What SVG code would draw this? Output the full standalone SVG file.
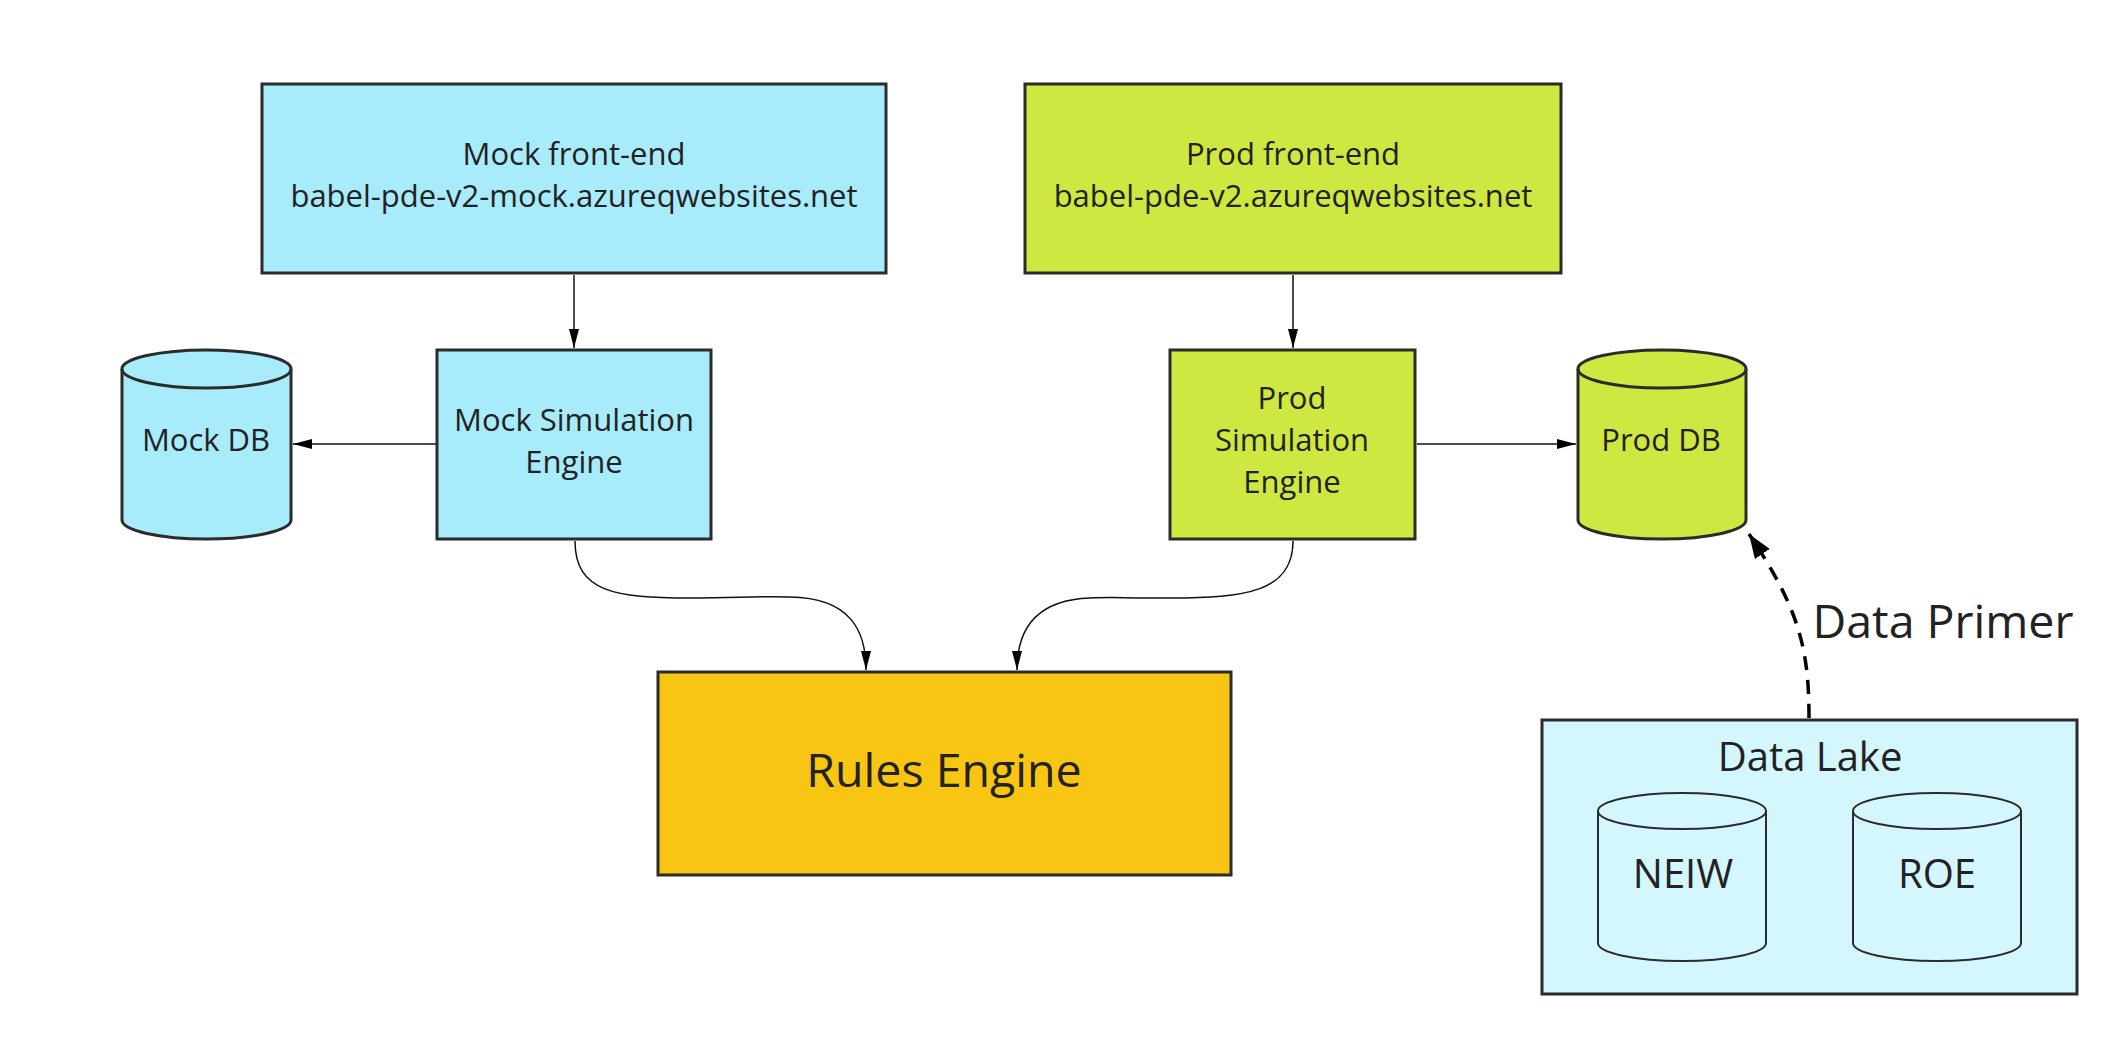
<svg xmlns="http://www.w3.org/2000/svg" width="2117" height="1062" viewBox="0 0 2117 1062">
<defs>
<style>
.box{stroke:#2b2b2b;stroke-width:3}
.mock{fill:#a8ecfc}
.prod{fill:#cfe841}
.rules{fill:#f8c512}
.lake{fill:#d4f6fe}
.cyl{stroke:#2b2b2b;stroke-width:3}
.cyl2{stroke:#2b2b2b;stroke-width:2;fill:none}
text{font-family:"Open Sans","Noto Sans","Liberation Sans",sans-serif;fill:#222;text-anchor:middle}
.t30{font-size:31px}
.conn{fill:none;stroke:#111;stroke-width:1.5}
.dash{fill:none;stroke:#000;stroke-width:3.5;stroke-dasharray:14 10}
</style>
<marker id="arr" markerUnits="userSpaceOnUse" markerWidth="20" markerHeight="12" refX="19" refY="5" orient="auto">
<path d="M0,0 L19,5 L0,10 Z" fill="#000"/>
</marker>
<marker id="arrBig" markerUnits="userSpaceOnUse" markerWidth="26" markerHeight="20" refX="24" refY="9" orient="auto">
<path d="M0,0 L24,9 L0,18 Z" fill="#000"/>
</marker>
</defs>
<rect width="2117" height="1062" fill="#fff"/>

<g id="connectors">
<path class="conn" d="M574,275 L574,348" marker-end="url(#arr)"/>
<path class="conn" d="M1293,275 L1293,348" marker-end="url(#arr)"/>
<path class="conn" d="M436,444 L293,444" marker-end="url(#arr)"/>
<path class="conn" d="M1417,444 L1576,444" marker-end="url(#arr)"/>
<path class="conn" d="M575,541 C575,592 615,598 690,598 C740,598 750,596 790,597 C850,598 866,630 866,670" marker-end="url(#arr)"/>
<path class="conn" d="M1293,541 C1293,592 1245,598 1170,598 C1120,598 1110,597 1090,598 C1035,600 1017,630 1017,670" marker-end="url(#arr)"/>
<path class="dash" d="M1809,718 C1809,650 1800,610 1749,534" marker-end="url(#arrBig)"/>
<text x="1943" y="638" style="font-size:46.5px">Data Primer</text>
</g>

<g id="mock-frontend">
<rect class="box mock" x="262" y="84" width="624" height="189"/>
<text class="t30" x="574" y="165">Mock front-end</text>
<text class="t30" x="574" y="207">babel-pde-v2-mock.azureqwebsites.net</text>
</g>

<g id="prod-frontend">
<rect class="box prod" x="1025" y="84" width="536" height="189"/>
<text class="t30" x="1293" y="165">Prod front-end</text>
<text class="t30" x="1293" y="207">babel-pde-v2.azureqwebsites.net</text>
</g>

<g id="mock-sim">
<rect class="box mock" x="437" y="350" width="274" height="189"/>
<text class="t30" x="574" y="431">Mock Simulation</text>
<text class="t30" x="574" y="473">Engine</text>
</g>

<g id="prod-sim">
<rect class="box prod" x="1170" y="350" width="245" height="189"/>
<text class="t30" x="1292" y="409">Prod</text>
<text class="t30" x="1292" y="451">Simulation</text>
<text class="t30" x="1292" y="493">Engine</text>
</g>

<g id="mock-db">
<path class="cyl mock" d="M122,369 A84.5,19 0 0 1 291,369 L291,520 A84.5,19 0 0 1 122,520 Z"/>
<path class="cyl" fill="none" d="M122,369 A84.5,19 0 0 0 291,369"/>
<text class="t30" x="206" y="451">Mock DB</text>
</g>

<g id="prod-db">
<path class="cyl prod" d="M1578,369 A84,19 0 0 1 1746,369 L1746,520 A84,19 0 0 1 1578,520 Z"/>
<path class="cyl" fill="none" d="M1578,369 A84,19 0 0 0 1746,369"/>
<text class="t30" x="1661" y="451">Prod DB</text>
</g>

<g id="rules-engine">
<rect class="box rules" x="658" y="672" width="573" height="203"/>
<text x="944" y="787" style="font-size:46.5px">Rules Engine</text>
</g>

<g id="data-lake">
<rect class="box lake" x="1542" y="720" width="535" height="274"/>
<text x="1810" y="771" style="font-size:40px">Data Lake</text>
<g id="neiw">
<path class="cyl2" d="M1598,811 A84,18 0 0 1 1766,811 L1766,943 A84,18 0 0 1 1598,943 Z"/>
<path class="cyl2" d="M1598,811 A84,18 0 0 0 1766,811"/>
<text x="1683" y="888" style="font-size:40px">NEIW</text>
</g>
<g id="roe">
<path class="cyl2" d="M1853,811 A84,18 0 0 1 2021,811 L2021,943 A84,18 0 0 1 1853,943 Z"/>
<path class="cyl2" d="M1853,811 A84,18 0 0 0 2021,811"/>
<text x="1937" y="888" style="font-size:40px">ROE</text>
</g>
</g>
</svg>
